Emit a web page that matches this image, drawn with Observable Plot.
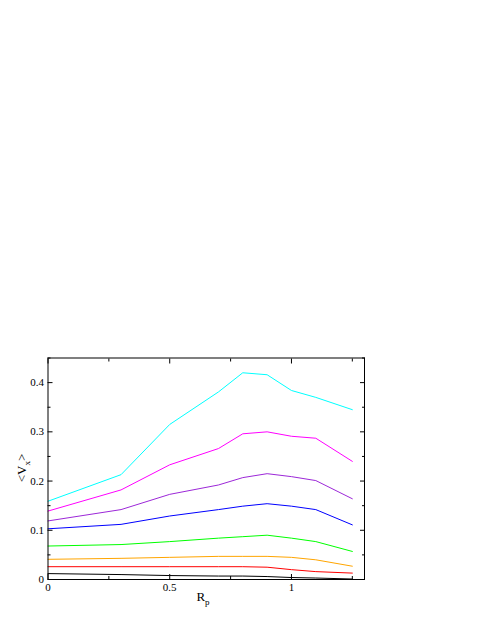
<!DOCTYPE html>
<html>
<head>
<meta charset="utf-8">
<script src="https://cdn.jsdelivr.net/npm/d3@7"></script>
<script src="https://cdn.jsdelivr.net/npm/@observablehq/plot@0.6"></script>
<style>
  html, body { margin: 0; padding: 0; background: #fff; }
  #chart svg { display: block; }
</style>
</head>
<body>
<div id="chart"></div>
<script>
const rp = [0, 0.3, 0.5, 0.7, 0.8, 0.9, 1.0, 1.1, 1.25];
const cyanSeries    = [0.159, 0.213, 0.315, 0.381, 0.420, 0.416, 0.384, 0.370, 0.345];
const magentaSeries = [0.139, 0.182, 0.233, 0.266, 0.296, 0.300, 0.291, 0.287, 0.240];
const violetSeries  = [0.119, 0.142, 0.173, 0.192, 0.207, 0.215, 0.209, 0.201, 0.164];
const blueSeries    = [0.103, 0.112, 0.129, 0.142, 0.149, 0.154, 0.149, 0.142, 0.111];
const greenSeries   = [0.068, 0.071, 0.077, 0.084, 0.087, 0.090, 0.084, 0.077, 0.057];
const orangeSeries  = [0.041, 0.043, 0.045, 0.047, 0.047, 0.047, 0.045, 0.040, 0.027];
const redSeries     = [0.026, 0.026, 0.026, 0.026, 0.026, 0.025, 0.020, 0.016, 0.013];
const blackSeries   = [0.012, 0.010, 0.008, 0.007, 0.007, 0.006, 0.004, 0.003, 0.001];

const seriesList = [
  {name: "s1", values: blackSeries, color: "#000000"},
  {name: "s2", values: redSeries, color: "#ff0000"},
  {name: "s3", values: orangeSeries, color: "#ffa500"},
  {name: "s4", values: greenSeries, color: "#00ff00"},
  {name: "s5", values: blueSeries, color: "#0000ff"},
  {name: "s6", values: violetSeries, color: "#9c27d8"},
  {name: "s7", values: magentaSeries, color: "#ff00ff"},
  {name: "s8", values: cyanSeries, color: "#00ffff"}
];

const xMajor = [0, 0.5, 1];
const xMinor = [0.25, 0.75, 1.25];
const yMajor = [0, 0.1, 0.2, 0.3, 0.4];
const yMinor = [0.05, 0.15, 0.25, 0.35, 0.45];

const rows = seriesList.flatMap(s => s.values.map((v, i) => ({series: s.name, x: rp[i], y: v})));

const W = 485, H = 627;
const font = "'Liberation Serif', 'Times New Roman', serif";
const fmt = d3.format("~g");

const plot = Plot.plot({
  width: W,
  height: H,
  marginLeft: 47.5,
  marginRight: 121,
  marginTop: 357.5,
  marginBottom: 48,
  style: {fontFamily: font, fontSize: "11px", background: "#fff", color: "#000"},
  x: {domain: [0, 1.3], label: null},
  y: {domain: [0, 0.45], label: null},
  color: {domain: seriesList.map(s => s.name), range: seriesList.map(s => s.color)},
  marks: [
    Plot.line(rows, {x: "x", y: "y", z: "series", stroke: "series", strokeWidth: 1}),
    // labels
    Plot.axisX(xMajor, {anchor: "bottom", tickSize: 0, tickPadding: 4, label: null, tickFormat: fmt, fontSize: 11, fontFamily: font}),
    Plot.axisY(yMajor, {anchor: "left", tickSize: 0, tickPadding: 4, label: null, tickFormat: fmt, fontSize: 11, fontFamily: font}),
    // inward major ticks
    Plot.axisX(xMajor, {anchor: "bottom", tickSize: -5, text: null, label: null}),
    Plot.axisX(xMajor, {anchor: "top", tickSize: -5, text: null, label: null}),
    Plot.axisY(yMajor, {anchor: "left", tickSize: -5, text: null, label: null}),
    Plot.axisY(yMajor, {anchor: "right", tickSize: -5, text: null, label: null}),
    // inward minor ticks
    Plot.axisX(xMinor, {anchor: "bottom", tickSize: -3, text: null, label: null}),
    Plot.axisX(xMinor, {anchor: "top", tickSize: -3, text: null, label: null}),
    Plot.axisY(yMinor, {anchor: "left", tickSize: -3, text: null, label: null}),
    Plot.axisY(yMinor, {anchor: "right", tickSize: -3, text: null, label: null}),
    Plot.frame({stroke: "#000", strokeWidth: 1})
  ]
});

const svg = d3.select(plot);
// x-axis label R_p
const xl = svg.append("text")
  .attr("x", 203).attr("y", 601)
  .attr("font-family", font).attr("font-size", 13).attr("text-anchor", "middle");
xl.append("tspan").text("R");
xl.append("tspan").attr("font-size", 9).attr("dy", 4).text("p");

// y-axis label <V_x>
const yl = svg.append("text")
  .attr("transform", "translate(26,468) rotate(-90)")
  .attr("font-family", font).attr("font-size", 13).attr("text-anchor", "middle");
yl.append("tspan").text("<V");
yl.append("tspan").attr("font-size", 9).attr("dy", 4).text("x");
yl.append("tspan").attr("dy", -4).text(">");

document.getElementById("chart").appendChild(plot);
</script>
</body>
</html>
